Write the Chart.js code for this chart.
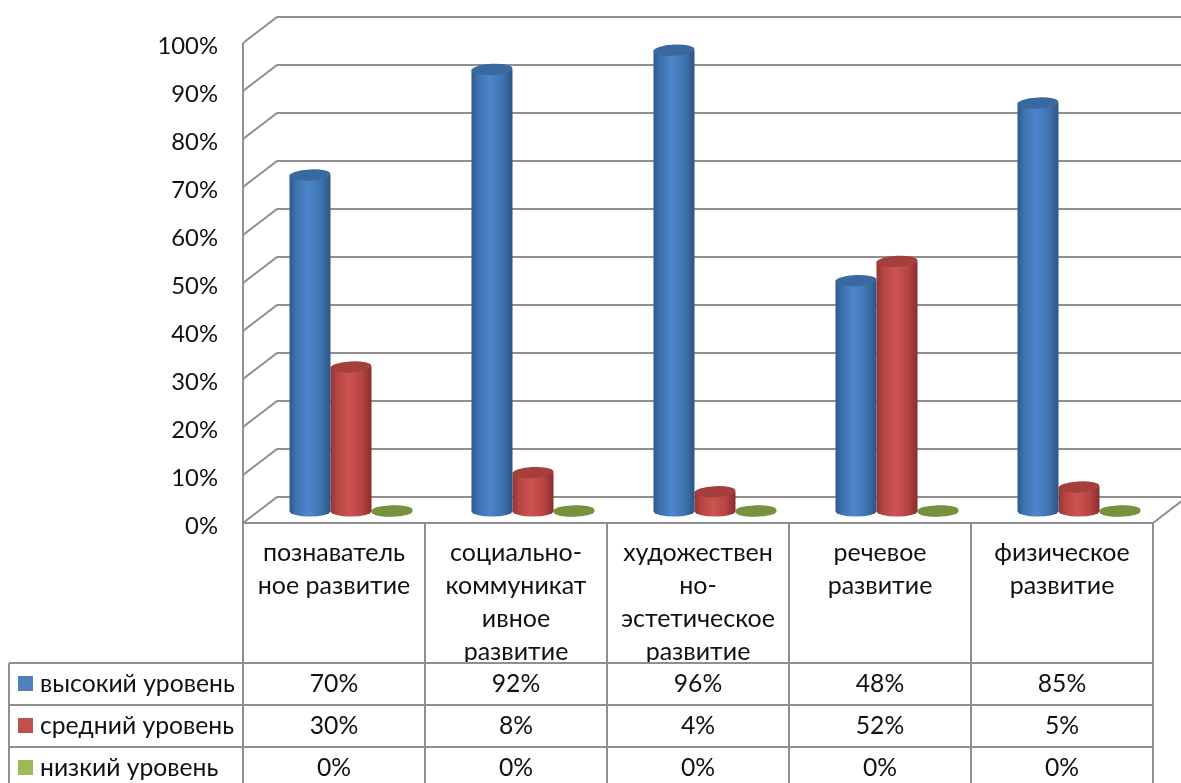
<!DOCTYPE html>
<html lang="ru">
<head>
<meta charset="utf-8">
<title>Уровни развития</title>
<script src="https://cdn.jsdelivr.net/npm/chart.js@4"></script>
<style>
  html, body { margin: 0; padding: 0; background: #fff; overflow: hidden; }
</style>
</head>
<body>
<canvas id="chart" width="1181" height="783"></canvas>
<script>
// Данные
var CATEGORIES = [
    ["познаватель", "ное развитие"],
    ["социально-", "коммуникат", "ивное", "развитие"],
    ["художествен", "но-", "эстетическое", "развитие"],
    ["речевое", "развитие"],
    ["физическое", "развитие"]
];
var SERIES_NAMES = ["высокий уровень", "средний уровень", "низкий уровень"];
var HIGH = [70, 92, 96, 48, 85];
var MEDIUM = [30, 8, 4, 52, 5];
var LOW = [0, 0, 0, 0, 0];

var FONT = "Lato, 'Open Sans', sans-serif";
var GRID = "#8f8f8f";
var KEY_COLORS = ["#4f81bd", "#c0504d", "#9bbb59"];
// полосы цилиндра слева направо
var SHADES = [
    ["#2e5a8f", "#3d70ad", "#4d86cb", "#3f74b0", "#2c5685"],
    ["#943431", "#b44542", "#cc5350", "#b84644", "#8a2d2b"],
    ["#76923c", "#76923c", "#76923c", "#76923c", "#76923c"]
];
var CAP_COLORS = ["#3a699f", "#a63e3c", "#76923c"];
var DEPTH_X = 34, DEPTH_Y = 26;   // глубина стенки
var BAR_DX = 17, BAR_DY = -12;    // столбцы стоят посередине пола
var CAT_PCT = 0.676;
var CAP = 5.6, CAP_TILT = -0.05;

function cylinderFill(context) {
    var chart = context.chart, sx = chart.scales.x;
    var base = KEY_COLORS[context.datasetIndex];
    if (!sx || context.dataIndex === undefined) return base;
    var w = sx.width / CATEGORIES.length * CAT_PCT / 3;
    var cx = sx.getPixelForTick(context.dataIndex) + (context.datasetIndex - 1) * w;
    if (!isFinite(w) || !isFinite(cx)) return base;
    var g = chart.ctx.createLinearGradient(cx - w / 2, 0, cx + w / 2, 0);
    var s = SHADES[context.datasetIndex];
    g.addColorStop(0, s[0]);
    g.addColorStop(0.15, s[1]);
    g.addColorStop(0.45, s[2]);
    g.addColorStop(0.75, s[3]);
    g.addColorStop(1, s[4]);
    return g;
}

var wallsAndTable = {
    id: "wallsAndTable",
    beforeDatasetsDraw: function (chart) {
        var ctx = chart.ctx, a = chart.chartArea, sy = chart.scales.y;
        ctx.save();
        ctx.strokeStyle = GRID;
        ctx.lineWidth = 2;
        sy.ticks.forEach(function (t) {
            var y = sy.getPixelForValue(t.value);
            ctx.beginPath();
            ctx.moveTo(a.left, y);
            ctx.lineTo(a.left + DEPTH_X, y - DEPTH_Y);
            ctx.lineTo(chart.width, y - DEPTH_Y);
            ctx.stroke();
        });
        ctx.beginPath();
        ctx.moveTo(a.left, a.top);
        ctx.lineTo(a.left, a.bottom);
        ctx.lineTo(a.right, a.bottom);
        ctx.lineTo(a.right + DEPTH_X, a.bottom - DEPTH_Y);
        ctx.stroke();
        ctx.restore();
        ctx.save();
        ctx.translate(BAR_DX, BAR_DY);
    },
    afterDatasetDraw: function (chart, args) {
        var ctx = chart.ctx;
        args.meta.data.forEach(function (bar) {
            var p = bar.getProps(["x", "y", "base", "width"], true);
            var r = p.width / 2;
            ctx.beginPath();
            ctx.ellipse(p.x, p.base, r, CAP, 0, 0, Math.PI * 2);
            ctx.fillStyle = bar.options.backgroundColor;
            ctx.fill();
            ctx.beginPath();
            ctx.ellipse(p.x, p.y, r, CAP, CAP_TILT, 0, Math.PI * 2);
            ctx.fillStyle = CAP_COLORS[args.index];
            ctx.fill();
        });
    },
    afterDatasetsDraw: function (chart) {
        var ctx = chart.ctx, a = chart.chartArea, sx = chart.scales.x;
        ctx.restore();

        // таблица данных
        var rows = [HIGH, MEDIUM, LOW];
        var rowY = [663, 705, 747, 789];
        ctx.save();
        ctx.strokeStyle = GRID;
        ctx.lineWidth = 2;
        ctx.beginPath();
        for (var i = 0; i <= CATEGORIES.length; i++) {
            var x = a.left + sx.width / CATEGORIES.length * i;
            ctx.moveTo(x, a.bottom);
            ctx.lineTo(x, chart.height);
        }
        rowY.forEach(function (y) {
            ctx.moveTo(9, y);
            ctx.lineTo(a.right, y);
        });
        ctx.moveTo(9, rowY[0]);
        ctx.lineTo(9, chart.height);
        ctx.stroke();

        ctx.font = "24.7px " + FONT;
        ctx.textBaseline = "middle";
        rows.forEach(function (row, r) {
            var cy = (rowY[r] + rowY[r + 1]) / 2;
            ctx.fillStyle = KEY_COLORS[r];
            ctx.fillRect(18, cy - 8, 15, 15);
            ctx.fillStyle = "#111";
            ctx.textAlign = "left";
            ctx.fillText(SERIES_NAMES[r], 40, cy);
            ctx.textAlign = "center";
            row.forEach(function (v, c) {
                ctx.fillText(v + "%", sx.getPixelForTick(c), cy);
            });
        });
        ctx.restore();
    }
};

function makeDataset(name, values) {
    return {
        label: name,
        data: values,
        backgroundColor: cylinderFill,
        borderWidth: 0,
        clip: false
    };
}

new Chart(document.getElementById("chart").getContext("2d"), {
    type: "bar",
    data: {
        labels: CATEGORIES,
        datasets: [
            makeDataset(SERIES_NAMES[0], HIGH),
            makeDataset(SERIES_NAMES[1], MEDIUM),
            makeDataset(SERIES_NAMES[2], LOW)
        ]
    },
    plugins: [wallsAndTable],
    options: {
        responsive: false,
        animation: false,
        devicePixelRatio: 1,
        layout: { padding: { top: 43, right: 28, left: 0, bottom: 0 } },
        datasets: { bar: { categoryPercentage: CAT_PCT, barPercentage: 1 } },
        plugins: { legend: { display: false }, tooltip: { enabled: false } },
        scales: {
            x: {
                afterFit: function (scale) { scale.height = 260; },
                grid: { display: false, drawTicks: false },
                border: { display: false },
                ticks: {
                    autoSkip: false,
                    maxRotation: 0,
                    padding: 13,
                    color: "#111",
                    font: { family: FONT, size: 25, lineHeight: "33px" }
                }
            },
            y: {
                min: 0,
                max: 100,
                afterFit: function (scale) { scale.width = 243; },
                grid: { display: false, drawTicks: false },
                border: { display: false },
                ticks: {
                    stepSize: 10,
                    padding: 25,
                    color: "#111",
                    font: { family: FONT, size: 23.8, lineHeight: "7px" },
                    // пустая первая строка опускает подпись на 3.5px
                    callback: function (v) { return ["", v + "%"]; }
                }
            }
        }
    }
});
</script>
</body>
</html>
